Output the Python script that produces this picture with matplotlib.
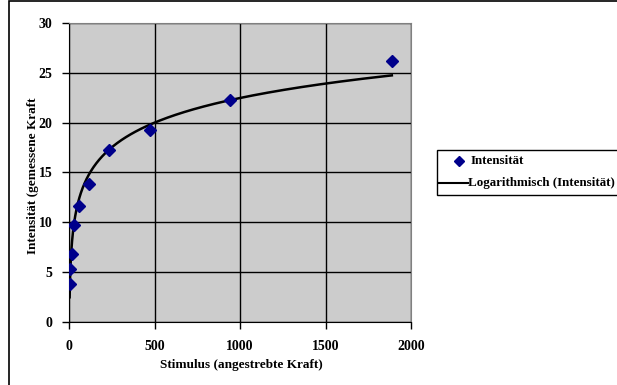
import numpy as np
import matplotlib
matplotlib.use("Agg")
import matplotlib.pyplot as plt
from matplotlib.patches import Rectangle
from matplotlib.lines import Line2D

# Measurement data: target force (stimulus) vs. measured intensity
stimulus = [3.7, 7.4, 14.8, 29.5, 59, 118, 236, 472, 944, 1888]
intensity = [3.8, 5.3, 6.8, 9.7, 11.6, 13.8, 17.3, 19.3, 22.3, 26.2]
x_ticks = [0, 500, 1000, 1500, 2000]
y_ticks = [0, 5, 10, 15, 20, 25, 30]

plt.rcParams['font.family'] = ['Liberation Serif', 'DejaVu Serif']
plt.rcParams['font.weight'] = 'bold'

W, H = 617, 385
fig = plt.figure(figsize=(W / 100, H / 100), dpi=100)

# Outer chart frame
fig.patches.append(Rectangle((9 / W, -0.1), 1.2, (H - 1) / H + 0.1,
                             transform=fig.transFigure, fill=False,
                             edgecolor='black', linewidth=1.2))

ax = fig.add_axes([69 / W, (H - 322) / H, (411 - 69) / W, (322 - 23) / H])
ax.set_facecolor('#cccccc')
ax.set_xlim(0, 2000)
ax.set_ylim(0, 30)
ax.set_xticks(x_ticks)
ax.set_yticks(y_ticks)
ax.grid(True, color='black', linewidth=1.0)
ax.set_axisbelow(True)
for side in ('top', 'right'):
    ax.spines[side].set_color('#808080')
for side in ('left', 'bottom'):
    ax.spines[side].set_color('black')
ax.tick_params(direction='out', length=5, width=1, labelsize=10)
ax.tick_params(axis='y', pad=7)
ax.tick_params(axis='x', pad=8)
for lab in ax.get_xticklabels() + ax.get_yticklabels():
    lab.set_fontweight('bold')

ax.plot(stimulus, intensity, linestyle='none', marker='D', markersize=6.5,
        color='#00008b', markeredgecolor='#00008b', zorder=3)

# Logarithmic trend line fitted to the measurements
xs = np.array(stimulus, dtype=float)
a, b = np.polyfit(np.log(xs), np.array(intensity), 1)
xt = np.geomspace(xs.min(), xs.max(), 400)
ax.plot(xt, a * np.log(xt) + b, color='black', linewidth=1.8, zorder=2)

fig.text(241 / W, 1 - 365 / H, 'Stimulus (angestrebte Kraft)', ha='center',
         va='center', fontsize=9.5, fontweight='bold')
fig.text(33 / W, 1 - 176 / H, 'Intensität (gemessene Kraft', rotation=90,
         ha='center', va='center', fontsize=9.5, fontweight='bold')

# Legend box
fig.patches.append(Rectangle((437 / W, 1 - 195 / H), 0.5, 45 / H,
                             transform=fig.transFigure, facecolor='white',
                             edgecolor='black', linewidth=1.0))
fig.add_artist(Line2D([459 / W], [1 - 161 / H], marker='D', markersize=5.5,
                      color='#00008b', transform=fig.transFigure))
fig.text(471 / W, 1 - 161 / H, 'Intensität', ha='left', va='center',
         fontsize=9.4, fontweight='bold')
fig.add_artist(Line2D([439 / W, 468 / W], [1 - 183 / H, 1 - 183 / H],
                      color='black', linewidth=1.5, transform=fig.transFigure))
fig.text(468 / W, 1 - 183 / H, 'Logarithmisch (Intensität)', ha='left',
         va='center', fontsize=9.4, fontweight='bold')

fig.savefig('out.png', dpi=100)
